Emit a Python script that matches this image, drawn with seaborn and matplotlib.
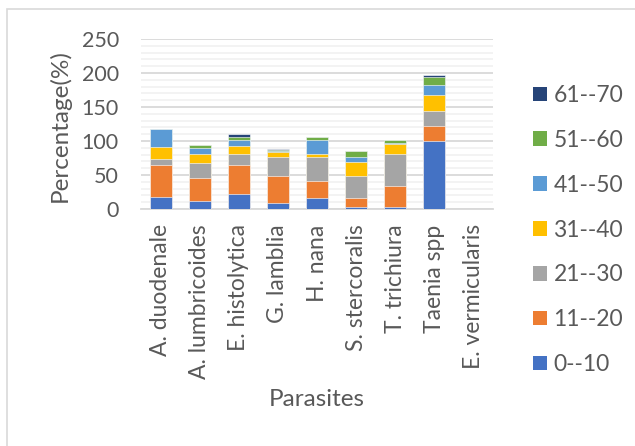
import numpy as np
import pandas as pd
import matplotlib
matplotlib.use("Agg")
import matplotlib.pyplot as plt
from matplotlib.patches import Patch, Rectangle
import seaborn as sns

# Parasites and the share (%) found in each age group
parasites = ["A. duodenale", "A. lumbricoides", "E. histolytica", "G. lamblia",
             "H. nana", "S. stercoralis", "T. trichiura", "Taenia spp",
             "E. vermicularis"]
age_groups = ["0--10", "11--20", "21--30", "31--40", "41--50", "51--60", "61--70"]

age_0_10 = [18, 12, 22, 9, 16, 2.5, 2.5, 100, 0]
age_11_20 = [46, 34, 42, 40, 25, 13, 32, 22, 0]
age_21_30 = [9, 22, 17, 27, 35, 33, 47, 22, 0]
age_31_40 = [18, 13, 11, 8, 5, 21, 14, 23, 0]
age_41_50 = [27, 9, 10, 2, 20.5, 6.5, 2, 15, 0]
age_51_60 = [0, 3.5, 4, 1.5, 4.5, 10, 3.5, 12, 0]
age_61_70 = [0, 0, 4, 0.5, 0, 0, 0, 3, 0]

series = [age_0_10, age_11_20, age_21_30, age_31_40, age_41_50, age_51_60, age_61_70]
colors = ["#4472C4", "#ED7D31", "#A5A5A5", "#FFC000", "#5B9BD5", "#70AD47", "#264478"]

df = pd.DataFrame(dict(zip(age_groups, series)), index=parasites)
cum = df.cumsum(axis=1)

sns.set_theme(style="white")
plt.rcParams["font.family"] = ["Lato", "DejaVu Sans"]
text_color = "#595959"

fig = plt.figure(figsize=(6.35, 4.46), dpi=100)
ax = fig.add_axes([141 / 635, 1 - 209 / 446, 352 / 635, 170 / 446])

# stacked bars: draw cumulative totals from the top group down
for grp, col in reversed(list(zip(age_groups, colors))):
    sns.barplot(x=parasites, y=cum[grp].values, color=col, saturation=1,
                width=0.56, edgecolor=(1, 1, 1, 0.6), linewidth=0.7, ax=ax,
                zorder=3)

ax.set_ylim(0, 250)
ax.set_xlim(-0.5, len(parasites) - 0.5)
ax.set_yticks(np.arange(0, 251, 50))
ax.set_yticks(np.arange(0, 251, 10), minor=True)
ax.grid(axis="y", which="major", color="#d9d9d9", linewidth=1.3, zorder=0)
ax.grid(axis="y", which="minor", color="#f2f2f2", linewidth=1.3, zorder=0)
ax.set_axisbelow(True)
for s in ["left", "right", "top"]:
    ax.spines[s].set_visible(False)
ax.spines["bottom"].set_color("#d9d9d9")
ax.spines["bottom"].set_linewidth(1.3)
ax.tick_params(axis="y", which="both", length=0, pad=16, labelsize=15.5,
               labelcolor=text_color)
ax.tick_params(axis="x", length=0, pad=11, labelsize=16.5, labelcolor=text_color)
plt.setp(ax.get_xticklabels(), rotation=90, ha="center", va="top")
ax.set_xlabel("")
ax.set_ylabel("")

fig.text(60 / 635, 1 - 126 / 446, "Percentage(%)", rotation=90, ha="center",
         va="center", fontsize=17.5, color=text_color)
fig.text(317 / 635, 1 - 400 / 446, "Parasites", ha="center", va="center",
         fontsize=17.5, color=text_color)

handles = [Patch(facecolor=c, edgecolor="none") for c in colors]
leg = fig.legend(handles[::-1], age_groups[::-1], loc="center left",
                 bbox_to_anchor=(533 / 635, 1 - 230 / 446), frameon=False,
                 fontsize=16.5, handlelength=0.61, handleheight=0.61,
                 handletextpad=0.28, labelspacing=1.04, borderpad=0,
                 borderaxespad=0)
for t in leg.get_texts():
    t.set_color(text_color)

fig.patches.append(Rectangle((7 / 635, -0.1), 1.2, 1 - 9 / 446 + 0.1,
                             transform=fig.transFigure, fill=False,
                             edgecolor="#d9d9d9", linewidth=1.2))

fig.savefig("out.png", dpi=100)
